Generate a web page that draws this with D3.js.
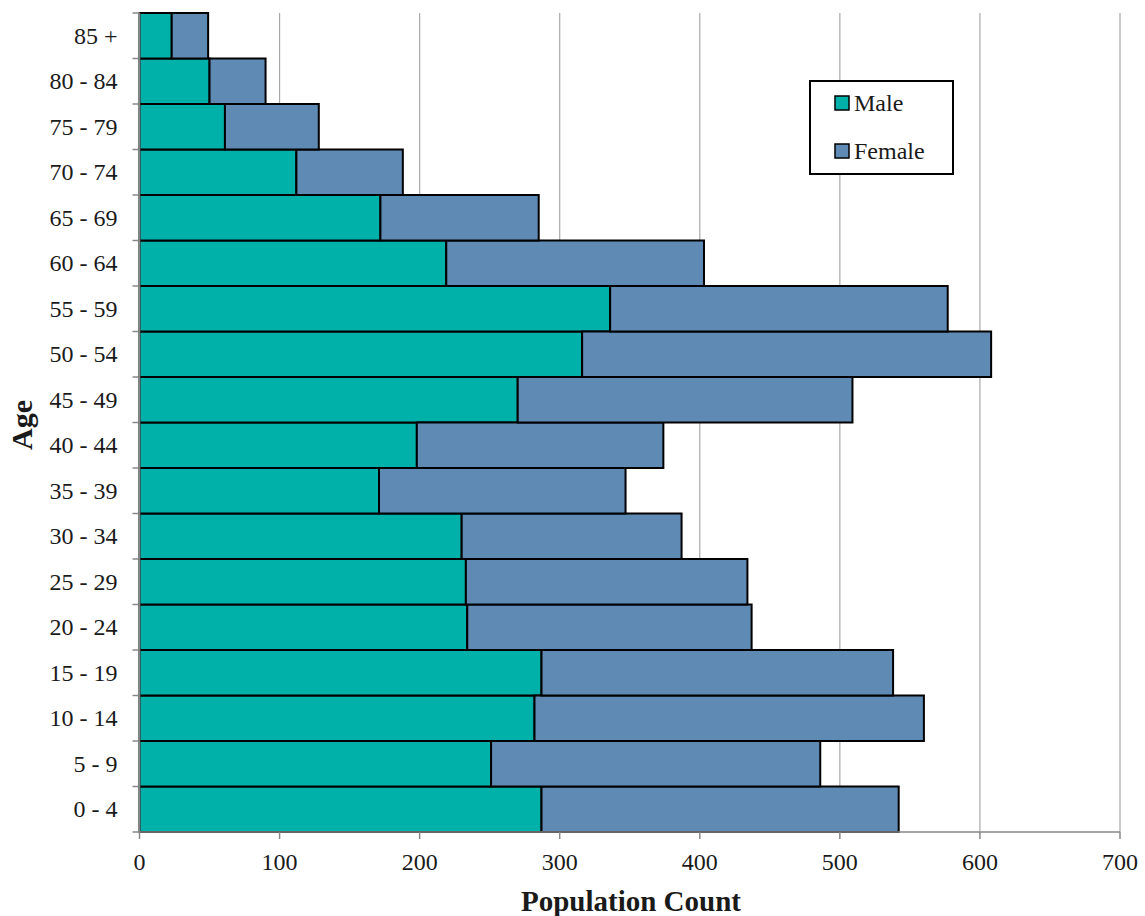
<!DOCTYPE html>
<html><head><meta charset="utf-8">
<script src="https://cdnjs.cloudflare.com/ajax/libs/d3/7.8.5/d3.min.js"></script>
<style>body{margin:0;background:#fff}svg{display:block}text{font-family:"Liberation Serif","DejaVu Serif",serif;fill:#1a1a1a}</style>
</head><body><svg id="c" width="1145" height="916"></svg>
<script>
const ageGroups = ["0 - 4","5 - 9","10 - 14","15 - 19","20 - 24","25 - 29","30 - 34","35 - 39","40 - 44","45 - 49","50 - 54","55 - 59","60 - 64","65 - 69","70 - 74","75 - 79","80 - 84","85 +"];
const male   = [287,251,282,287,234,233,230,171,198,270,316,336,219,172,112,61,50,23];
const female = [255,235,278,251,203,201,157,176,176,239,292,241,184,113,76,67,40,26];
const seriesNames = ["Male","Female"];
const seriesColors = ["#00B1A9","#5F8AB4"];
const xTicks = [0,100,200,300,400,500,600,700];

const svg = d3.select("#c");
const L = 139.5, R = 1120, T = 13, B = 832;
const x = d3.scaleLinear().domain([0,700]).range([L,R]);
const y = d3.scaleBand().domain(ageGroups.slice().reverse()).range([T,B]).padding(0);

// gridlines
svg.append("g").selectAll("line").data(xTicks.slice(1)).join("line")
  .attr("x1",d=>x(d)).attr("x2",d=>x(d)).attr("y1",T).attr("y2",B)
  .attr("stroke","#a8a8a8").attr("stroke-width",1.2);

// stacked bars
const rows = ageGroups.map((g,i)=>({g, Male:male[i], Female:female[i]}));
const stack = d3.stack().keys(seriesNames)(rows);
svg.append("g").selectAll("g").data(stack).join("g")
  .attr("fill",(d,i)=>seriesColors[i])
  .selectAll("rect").data(d=>d).join("rect")
  .attr("x",d=>x(d[0])).attr("width",d=>x(d[1])-x(d[0]))
  .attr("y",d=>y(d.data.g)).attr("height",y.bandwidth())
  .attr("stroke","#000").attr("stroke-width",2);

// y axis
const yAx = svg.append("g").attr("transform",`translate(${L},0)`);
yAx.append("line").attr("x1",0).attr("x2",0).attr("y1",T).attr("y2",B).attr("stroke","#888").attr("stroke-width",1.5);
const bounds = d3.range(ageGroups.length+1).map(i=>T+i*y.step());
yAx.selectAll("line.t").data(bounds).join("line").attr("class","t")
  .attr("x1",-7).attr("x2",0).attr("y1",d=>d).attr("y2",d=>d).attr("stroke","#888").attr("stroke-width",1.5);
yAx.selectAll("text").data(ageGroups).join("text")
  .attr("x",-22).attr("y",d=>y(d)+y.bandwidth()/2).attr("dy","0.33em")
  .attr("text-anchor","end").attr("font-size",24).text(d=>d);

// x axis
const xAx = svg.append("g").attr("transform",`translate(0,${B})`);
xAx.append("line").attr("x1",L).attr("x2",R).attr("stroke","#888").attr("stroke-width",1.5);
xAx.selectAll("line.t").data(xTicks).join("line").attr("class","t")
  .attr("x1",d=>x(d)).attr("x2",d=>x(d)).attr("y1",0).attr("y2",7).attr("stroke","#888").attr("stroke-width",1.5);
xAx.selectAll("text").data(xTicks).join("text")
  .attr("x",d=>x(d)).attr("y",38).attr("text-anchor","middle").attr("font-size",24).text(d=>d);

// axis titles
svg.append("text").attr("x",631).attr("y",911).attr("text-anchor","middle")
  .attr("font-size",29).attr("font-weight","bold").text("Population Count");
svg.append("text").attr("transform","translate(32,425) rotate(-90)").attr("text-anchor","middle")
  .attr("font-size",30).attr("font-weight","bold").text("Age");

// legend
const lg = svg.append("g");
lg.append("rect").attr("x",810).attr("y",81).attr("width",143).attr("height",93)
  .attr("fill","#fff").attr("stroke","#000").attr("stroke-width",2);
seriesNames.forEach((s,i)=>{
  const yy = 103 + i*48;
  lg.append("rect").attr("x",835).attr("y",yy-7).attr("width",14).attr("height",14)
    .attr("fill",seriesColors[i]).attr("stroke","#000").attr("stroke-width",1.5);
  lg.append("text").attr("x",854).attr("y",yy).attr("dy","0.33em").attr("font-size",24).text(s);
});
</script></body></html>
